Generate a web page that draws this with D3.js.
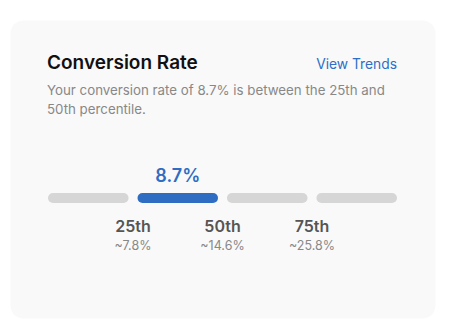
<!DOCTYPE html>
<html>
<head>
<meta charset="utf-8">
<script src="https://cdn.jsdelivr.net/npm/d3@7"></script>
<style>
  html, body { margin: 0; padding: 0; background: #fff; }
  svg { display: block; font-family: Inter, "Noto Sans", sans-serif; }
</style>
</head>
<body>
<svg id="chart" width="452" height="334"></svg>
<script>
// data
const segments = ["0-25", "25-50", "50-75", "75-100"];
const activeSegment = "25-50";
const yourRate = "8.7%";
const percentileLabels = ["25th", "50th", "75th"];
const percentileValues = ["~7.8%", "~14.6%", "~25.8%"];

const svg = d3.select("#chart");

// card
svg.append("rect")
  .attr("x", 10.5).attr("y", 20.5)
  .attr("width", 425).attr("height", 298)
  .attr("rx", 13)
  .attr("fill", "#f9f9f9");

// header
svg.append("text")
  .attr("x", 47).attr("y", 69)
  .attr("font-size", 19).attr("font-weight", 600)
  .attr("fill", "#111")
  .text("Conversion Rate");

svg.append("text")
  .attr("x", 397).attr("y", 68.5)
  .attr("text-anchor", "end")
  .attr("font-size", 13.8)
  .attr("fill", "#2d6fc6")
  .text("View Trends");

const sub = svg.append("text")
  .attr("font-size", 13.3).attr("fill", "#888");
sub.append("tspan").attr("x", 47).attr("y", 95)
  .text("Your conversion rate of 8.7% is between the 25th and");
sub.append("tspan").attr("x", 47).attr("y", 114)
  .text("50th percentile.");

// segmented bar
const x = d3.scaleBand()
  .domain(segments)
  .range([48, 397])
  .paddingInner(0.1);

const barY = 193, barH = 10;

svg.append("g").selectAll("rect")
  .data(segments)
  .join("rect")
  .attr("x", d => x(d))
  .attr("y", barY)
  .attr("width", x.bandwidth())
  .attr("height", barH)
  .attr("rx", barH / 2)
  .attr("fill", d => d === activeSegment ? "#2f6dc3" : "#d6d6d6");

svg.append("text")
  .attr("x", x(activeSegment) + x.bandwidth() / 2)
  .attr("y", 182)
  .attr("text-anchor", "middle")
  .attr("font-size", 18).attr("font-weight", 600)
  .attr("fill", "#2f6dc3")
  .text(yourRate);

// percentile markers sit at segment boundaries
const gap = x.step() - x.bandwidth();
const ticks = svg.append("g").selectAll("g")
  .data(percentileLabels.map((l, i) => ({label: l, value: percentileValues[i], seg: segments[i + 1]})))
  .join("g")
  .attr("transform", d => `translate(${x(d.seg) - gap / 2},0)`);

ticks.append("text")
  .attr("y", 232)
  .attr("text-anchor", "middle")
  .attr("font-size", 16).attr("font-weight", 600)
  .attr("fill", "#555")
  .text(d => d.label);

ticks.append("text")
  .attr("y", 250)
  .attr("text-anchor", "middle")
  .attr("font-size", 12.5)
  .attr("fill", "#888")
  .text(d => d.value);
</script>
</body>
</html>
